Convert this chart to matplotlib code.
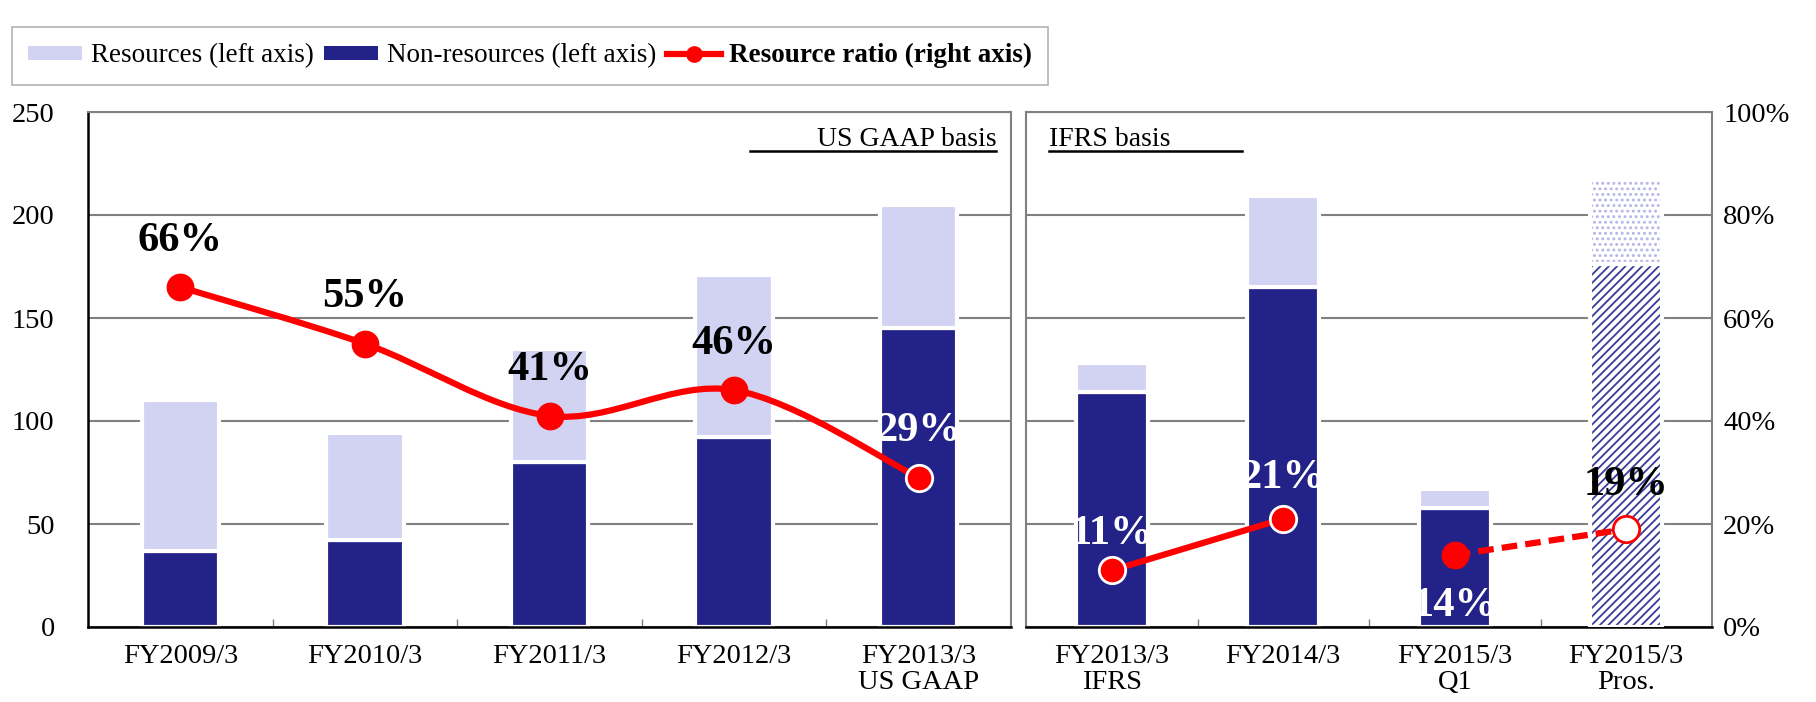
import numpy as np
import matplotlib
matplotlib.use("Agg")
import matplotlib.pyplot as plt
from matplotlib.patches import Patch, PathPatch
from matplotlib.lines import Line2D
from matplotlib.path import Path

plt.rcParams['font.family'] = ['Liberation Serif', 'DejaVu Serif']
plt.rcParams['hatch.linewidth'] = 1.3

# -------------------------------------------------------------------
# Data (left panel: US GAAP basis, right panel: IFRS basis)
# -------------------------------------------------------------------
left_cats = ["FY2009/3", "FY2010/3", "FY2011/3", "FY2012/3", "FY2013/3\nUS GAAP"]
left_nonres = [37, 42, 80, 92, 145]
left_res = [73, 52, 55, 79, 60]
left_ratio = [66, 55, 41, 46, 29]

right_cats = ["FY2013/3\nIFRS", "FY2014/3", "FY2015/3\nQ1", "FY2015/3\nPros."]
right_nonres = [114, 165, 58, 176]
right_res = [14, 44, 9, 42]
right_ratio = [11, 21, 14, 19]

left_ticks = [0, 50, 100, 150, 200, 250]
right_ticks = [0, 20, 40, 60, 80, 100]

RES = "#D2D3F3"
NONRES = "#222288"
RED = "#FF0000"
GRID = "#808080"
W = 1816
H = 702


def smooth_path(xs, ys):
    # Excel-like smoothed line (Catmull-Rom as cubic Bezier)
    pts = np.column_stack([xs, ys]).astype(float)
    n = len(pts)
    verts = [pts[0]]
    codes = [Path.MOVETO]
    for i in range(n - 1):
        p0 = pts[max(i - 1, 0)]
        p1 = pts[i]
        p2 = pts[i + 1]
        p3 = pts[min(i + 2, n - 1)]
        verts += [p1 + (p2 - p0) / 6, p2 - (p3 - p1) / 6, p2]
        codes += [Path.CURVE4] * 3
    return Path(verts, codes)


def style_axes(ax, cats):
    n = len(cats)
    ax.set_xlim(-0.5, n - 0.5)
    ax.set_ylim(0, 250)
    ax.set_yticks(left_ticks)
    ax.grid(axis="y", color=GRID, lw=1.5)
    ax.set_axisbelow(True)
    ax.set_xticks(np.arange(n - 1) + 0.5)
    ax.set_xticklabels([])
    ax.tick_params(axis="x", which="major", direction="in", length=6, color=GRID, width=1)
    ax.set_xticks(np.arange(n), minor=True)
    ax.set_xticklabels(cats, minor=True, fontsize=20.5, linespacing=1.05)
    ax.tick_params(axis="x", which="minor", length=0, pad=12)
    ax.tick_params(axis="y", length=0)
    for s in ["top", "right", "left"]:
        ax.spines[s].set_color(GRID)
        ax.spines[s].set_linewidth(1.5)
    ax.spines["bottom"].set_color("black")
    ax.spines["bottom"].set_linewidth(1.8)


def draw_bars(ax, nonres, res, patterned=()):
    x = np.arange(len(nonres))
    for i in x:
        if i in patterned:
            ax.bar(i, nonres[i], 0.42, facecolor="white", edgecolor="#3A3A9A",
                   hatch="////", lw=0, zorder=2)
            ax.bar(i, res[i], 0.42, bottom=nonres[i], facecolor="white",
                   edgecolor="#B4B5E6", hatch="...", lw=0, zorder=2)
            ax.bar(i, nonres[i], 0.42, facecolor="none", edgecolor="white", lw=3, zorder=3)
            ax.bar(i, res[i], 0.42, bottom=nonres[i], facecolor="none",
                   edgecolor="white", lw=3, zorder=3)
        else:
            ax.bar(i, nonres[i], 0.42, color=NONRES, edgecolor="white", lw=3, zorder=2)
            ax.bar(i, res[i], 0.42, bottom=nonres[i], color=RES, edgecolor="white",
                   lw=3, zorder=2)


fig = plt.figure(figsize=(W / 100, H / 100), dpi=100)
bottom = 1 - 627 / H
height = (627 - 112) / H
axL = fig.add_axes([88 / W, bottom, (1011 - 88) / W, height])
axR = fig.add_axes([1026 / W, bottom, (1712 - 1026) / W, height])

# -------------------------------------------------------------------
# Left panel
# -------------------------------------------------------------------
draw_bars(axL, left_nonres, left_res)
style_axes(axL, left_cats)
axL.spines["left"].set_color("black")
axL.spines["left"].set_linewidth(1.8)
axL.set_yticklabels([str(t) for t in left_ticks], fontsize=20.5)
axL.tick_params(axis="y", pad=24)

axL2 = axL.twinx()
axL2.set_ylim(0, 100)
axL2.set_yticks([])
for s in axL2.spines.values():
    s.set_visible(False)
xl = np.arange(len(left_ratio))
axL2.add_patch(PathPatch(smooth_path(xl, left_ratio), fill=False, edgecolor=RED,
                         lw=4.5, capstyle="round", zorder=3))
axL2.plot(xl[:-1], left_ratio[:-1], "o", ms=19, color=RED, mec=RED, zorder=4)
axL2.plot(xl[-1:], left_ratio[-1:], "o", ms=19, color=RED, mec="white", mew=2, zorder=4)
lcolors = ["black", "black", "black", "black", "white"]
for i, v in enumerate(left_ratio):
    axL2.text(i, v + 9, f"{v}%", ha="center", va="center", fontsize=30.5,
              fontweight="bold", color=lcolors[i], zorder=5)

axL.text(0.984, 0.934, "US GAAP basis", transform=axL.transAxes, ha="right",
         va="baseline", fontsize=20)
axL.plot([0.717, 0.984], [0.925, 0.925], transform=axL.transAxes, color="black",
         lw=1.8, clip_on=False)

# -------------------------------------------------------------------
# Right panel
# -------------------------------------------------------------------
draw_bars(axR, right_nonres, right_res, patterned=(3,))
style_axes(axR, right_cats)
axR.set_yticklabels([])

axR2 = axR.twinx()
axR2.set_ylim(0, 100)
axR2.set_yticks(right_ticks)
axR2.set_yticklabels([f"{t}%" for t in right_ticks], fontsize=20.5)
axR2.tick_params(axis="y", length=0, pad=8)
for s in axR2.spines.values():
    s.set_visible(False)
xr = np.arange(len(right_ratio))
axR2.add_patch(PathPatch(smooth_path(xr[:2], right_ratio[:2]), fill=False,
                         edgecolor=RED, lw=4.5, capstyle="round", zorder=3))
axR2.plot(xr[2:], right_ratio[2:], color=RED, lw=4.5, ls=(0, (2.5, 1.3)), zorder=3)
axR2.plot(xr[:2], right_ratio[:2], "o", ms=19, color=RED, mec="white", mew=2, zorder=4)
axR2.plot(xr[2:3], right_ratio[2:3], "o", ms=19, color=RED, mec=RED, zorder=4)
axR2.plot(xr[3:], right_ratio[3:], "o", ms=19, color="white", mec=RED, mew=2, zorder=4)
r_off = [7, 8, -10, 8.5]
rcolors = ["white", "white", "white", "black"]
for i, v in enumerate(right_ratio):
    axR2.text(i, v + r_off[i], f"{v}%", ha="center", va="center", fontsize=30.5,
              fontweight="bold", color=rcolors[i], zorder=5)

axR.text(0.034, 0.934, "IFRS basis", transform=axR.transAxes, ha="left",
         va="baseline", fontsize=20)
axR.plot([0.034, 0.315], [0.925, 0.925], transform=axR.transAxes, color="black",
         lw=1.8, clip_on=False)

# -------------------------------------------------------------------
# Legend
# -------------------------------------------------------------------
handles = [
    Patch(facecolor=RES, edgecolor="none"),
    Patch(facecolor=NONRES, edgecolor="none"),
    Line2D([], [], color=RED, lw=4.5, marker="o", ms=11),
]
labels = ["Resources (left axis)", "Non-resources (left axis)", "Resource ratio (right axis)"]
leg = fig.legend(handles, labels, loc="upper left", bbox_to_anchor=(12 / W, 1 - 27 / H),
                 ncol=3, fontsize=19.5, frameon=True, fancybox=False, edgecolor="#A0A0A0",
                 handlelength=2.0, handleheight=0.4, handletextpad=0.3,
                 columnspacing=0.4, borderpad=0.6, borderaxespad=0)
leg.get_frame().set_linewidth(1.2)
leg.get_texts()[2].set_fontweight("bold")

fig.savefig("out.png", dpi=100)
